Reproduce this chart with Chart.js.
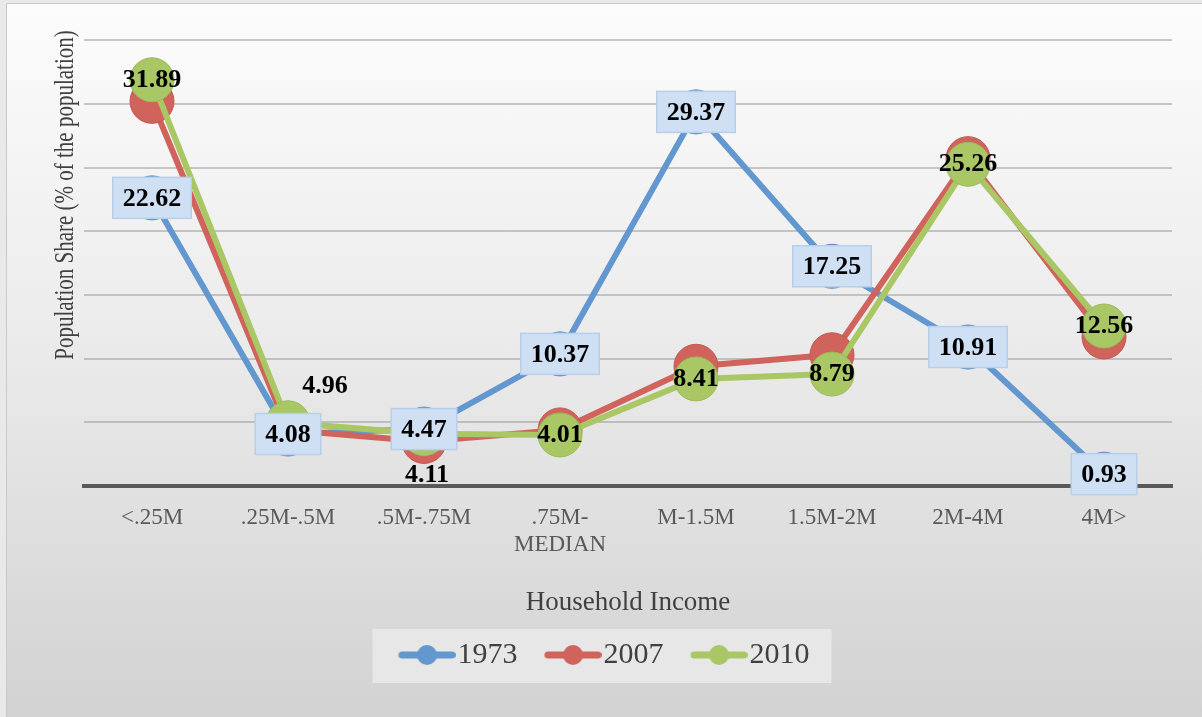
<!DOCTYPE html>
<html>
<head>
<meta charset="utf-8">
<script src="https://cdn.jsdelivr.net/npm/chart.js@4"></script>
<style>
  html, body { margin: 0; padding: 0; background: #e9e9e9; overflow: hidden; }
  #frame {
    position: absolute; left: 6px; top: 3px; width: 1200px; height: 716px;
    border: 1px solid #c9c9c9;
    background: linear-gradient(to bottom, #fcfcfc 0%, #ececec 45%, #d2d2d2 100%);
  }
  #chart { position: absolute; left: 0; top: 0; }
</style>
</head>
<body>
<div id="frame"></div>
<canvas id="chart" width="1202" height="717"></canvas>
<script>
// Chart data
const categories = ['<.25M', '.25M-.5M', '.5M-.75M', ['.75M-', 'MEDIAN'], 'M-1.5M', '1.5M-2M', '2M-4M', '4M>'];
const share1973 = [22.62, 4.08, 4.47, 10.37, 29.37, 17.25, 10.91, 0.93];
const share2007 = [30.2, 4.4, 3.5, 4.4, 9.4, 10.3, 25.7, 11.7];
const share2010 = [31.89, 4.96, 4.11, 4.01, 8.41, 8.79, 25.26, 12.56];

// Label nudges for 2010 (pixels), so they don't sit under the 1973 boxes
const nudge2010 = [[0, 0], [37, -37], [3, 42], [0, 0], [0, 0], [0, 0], [0, 0], [0, 0]];

const yTitle = 'Population Share (% of the population)';

const colors = {
    blue: '#6397cf',
    red: '#d0635c',
    green: '#aac765'
};

Chart.defaults.font.family = '"Liberation Serif", "Times New Roman", serif';

// legend icon: thick line with a dot in the middle
function legendIcon(color) {
    const c = document.createElement('canvas');
    c.width = 77;
    c.height = 22;
    const g = c.getContext('2d');
    g.strokeStyle = color;
    g.lineWidth = 7;
    g.lineCap = 'round';
    g.beginPath();
    g.moveTo(23.5, 11);
    g.lineTo(73.5, 11);
    g.stroke();
    g.fillStyle = color;
    g.beginPath();
    g.arc(48.5, 11, 10, 0, Math.PI * 2);
    g.fill();
    return c;
}
const icons = [legendIcon(colors.blue), legendIcon(colors.red), legendIcon(colors.green)];

// Legend background box
const legendBox = {
    id: 'legendBox',
    beforeDraw(chart) {
        const lg = chart.legend;
        if (!lg || !lg.legendHitBoxes.length) return;
        const hb = lg.legendHitBoxes;
        const last = hb[hb.length - 1];
        const ctx = chart.ctx;
        ctx.save();
        ctx.fillStyle = 'rgba(236,236,236,0.75)';
        const x0 = hb[0].left - 19;
        const x1 = last.left + last.width + 22;
        ctx.fillRect(x0, lg.top + 9, x1 - x0, 54);
        ctx.restore();
    }
};

// Y title, narrow like the original (tall letters, short run)
const sideTitle = {
    id: 'sideTitle',
    afterDraw(chart) {
        const ctx = chart.ctx;
        const yScale = chart.scales.y;
        ctx.save();
        ctx.translate(yScale.left + 37, 195);
        ctx.rotate(-Math.PI / 2);
        ctx.scale(0.75, 1);
        ctx.font = '28px "Liberation Serif"';
        ctx.fillStyle = '#404040';
        ctx.textAlign = 'center';
        ctx.textBaseline = 'middle';
        ctx.fillText(yTitle, 0, 0);
        ctx.restore();
    }
};

// Value labels
const valueLabels = {
    id: 'valueLabels',
    afterDatasetsDraw(chart) {
        const ctx = chart.ctx;
        ctx.save();
        ctx.font = 'bold 26px "Liberation Serif"';
        ctx.textAlign = 'center';
        ctx.textBaseline = 'middle';
        ctx.fillStyle = '#000000';

        chart.getDatasetMeta(2).data.forEach((pt, i) => {
            const n = nudge2010[i];
            ctx.fillText(share2010[i].toFixed(2), pt.x + n[0], pt.y + n[1]);
        });

        chart.getDatasetMeta(0).data.forEach((pt, i) => {
            const txt = share1973[i].toFixed(2);
            const w = ctx.measureText(txt).width + 20;
            const h = 41;
            ctx.fillStyle = '#cfe0f4';
            ctx.strokeStyle = '#b7cfea';
            ctx.lineWidth = 1.5;
            ctx.fillRect(pt.x - w / 2, pt.y - h / 2, w, h);
            ctx.strokeRect(pt.x - w / 2, pt.y - h / 2, w, h);
            ctx.fillStyle = '#000000';
            ctx.fillText(txt, pt.x, pt.y + 1);
        });
        ctx.restore();
    }
};

function series(label, data, color, border, order) {
    return {
        label: label,
        data: data,
        borderColor: color,
        backgroundColor: color,
        borderWidth: 6,
        borderJoinStyle: 'round',
        tension: 0,
        pointRadius: 22,
        pointHoverRadius: 22,
        pointBackgroundColor: color,
        pointBorderColor: border,
        pointBorderWidth: 1,
        order: order
    };
}

const chart = new Chart(document.getElementById('chart'), {
    type: 'line',
    data: {
        labels: categories,
        datasets: [
            series('1973', share1973, colors.blue, '#5a8cc2', 3),
            series('2007', share2007, colors.red, '#c0584f', 2),
            series('2010', share2010, colors.green, '#9cb95a', 1)
        ]
    },
    options: {
        responsive: false,
        animation: false,
        layout: {
            padding: { left: 29, right: 30, top: 30, bottom: 37 }
        },
        plugins: {
            legend: {
                position: 'bottom',
                labels: {
                    usePointStyle: true,
                    pointStyleWidth: 51,
                    padding: 20,
                    color: '#404040',
                    font: { size: 30 },
                    sort: (a, b) => a.datasetIndex - b.datasetIndex,
                    generateLabels: function(chart) {
                        const items = Chart.defaults.plugins.legend.labels.generateLabels(chart);
                        items.forEach(it => { it.pointStyle = icons[it.datasetIndex]; });
                        return items;
                    }
                }
            },
            tooltip: { enabled: false }
        },
        scales: {
            x: {
                offset: true,
                grid: { display: false, drawTicks: false },
                border: { display: true, color: '#595959', width: 4 },
                ticks: {
                    color: '#595959',
                    font: { size: 23, lineHeight: 1.2 },
                    padding: 18,
                    maxRotation: 0,
                    autoSkip: false
                },
                title: {
                    display: true,
                    text: 'Household Income',
                    color: '#404040',
                    font: { size: 27 },
                    padding: { top: 4, bottom: 1 }
                },
                afterFit: function(scale) { scale.height = 134; }
            },
            y: {
                min: 0,
                max: 35.8,
                border: { display: false },
                grid: {
                    drawTicks: false,
                    lineWidth: 2,
                    color: function(ctx) {
                        return ctx.tick && ctx.tick.value === 0 ? 'rgba(0,0,0,0)' : 'rgba(150,150,150,0.5)';
                    }
                },
                ticks: { display: false, stepSize: 5, includeBounds: false },
                title: { display: false },
                afterFit: function(scale) { scale.width = 55; }
            }
        }
    },
    plugins: [legendBox, valueLabels, sideTitle]
});
</script>
</body>
</html>
